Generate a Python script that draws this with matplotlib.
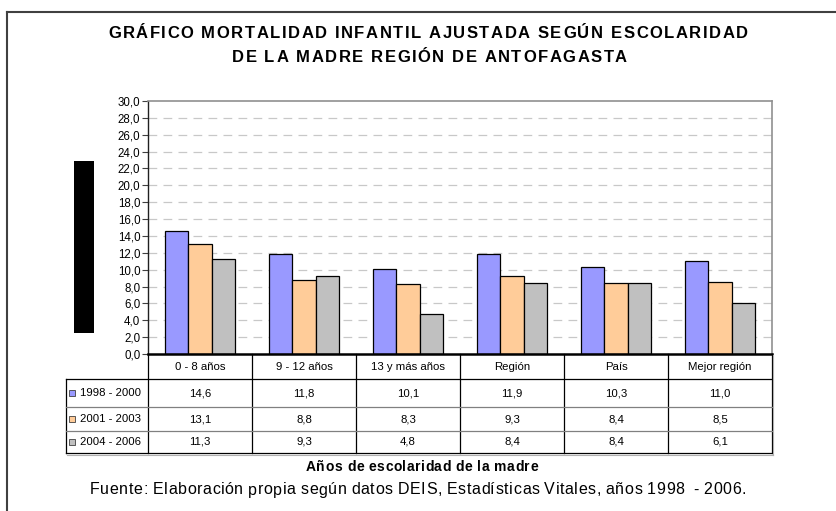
import matplotlib
matplotlib.use("Agg")
import matplotlib.pyplot as plt
from matplotlib.lines import Line2D
from matplotlib.patches import Rectangle
from matplotlib.transforms import blended_transform_factory

plt.rcParams['font.family'] = ['Liberation Sans', 'DejaVu Sans']

categories = ["0 - 8 años", "9 - 12 años", "13 y más años", "Región", "País", "Mejor región"]
series_names = ["1998 - 2000", "2001 - 2003", "2004 - 2006"]
v_1998_2000 = [14.6, 11.8, 10.1, 11.9, 10.3, 11.0]
v_2001_2003 = [13.1, 8.8, 8.3, 9.3, 8.4, 8.5]
v_2004_2006 = [11.3, 9.3, 4.8, 8.4, 8.4, 6.1]
series_values = [v_1998_2000, v_2001_2003, v_2004_2006]
colors = ["#9999FF", "#FFCC99", "#C0C0C0"]
yticks = [i * 2.0 for i in range(16)]

W, H = 837, 511
fig = plt.figure(figsize=(W / 100, H / 100), dpi=100)
renderer = fig.canvas.get_renderer()


def fx(px):
    return px / W


def fy(py):
    return 1 - py / H


def spaced_text(x0, x1, py, s, **kw):
    # draws s char by char so that it spans pixels x0..x1 (Excel-like letter spacing)
    widths = []
    for ch in s:
        t = fig.text(0, 0, ch.replace(" ", "i"), **kw)
        widths.append(t.get_window_extent(renderer).width)
        t.remove()
    gap = (x1 - x0 - sum(widths)) / (len(s) - 1)
    x = x0
    for ch, w in zip(s, widths):
        if ch != " ":
            fig.text(fx(x), fy(py), ch, ha="left", va="center", **kw)
        x += w + gap


# plot area in pixels
left, right, top, bottom = 148, 772, 101, 354
ax = fig.add_axes([fx(left), fy(bottom), fx(right - left), (bottom - top) / H])

n = len(categories)
bw = 0.224
for i, (vals, col) in enumerate(zip(series_values, colors)):
    xs = [k + (i - 1) * bw for k in range(n)]
    ax.bar(xs, vals, width=bw, color=col, edgecolor="black", linewidth=0.9, zorder=3)

ax.set_xlim(-0.5, n - 0.5)
ax.set_ylim(0, 30)
ax.set_yticks(yticks)
ax.set_yticklabels([f"{t:.1f}".replace(".", ",") for t in yticks], fontsize=8.3)
ax.set_xticks([])
ax.tick_params(axis="y", length=4, width=0.8, pad=1.5, color="#404040")
for t in yticks[1:-1]:
    ax.axhline(t, color="#C8C8C8", linestyle=(0, (7, 5)), linewidth=0.9, zorder=1)
ax.spines["top"].set_color("#909090")
ax.spines["right"].set_color("#909090")
ax.spines["top"].set_linewidth(1.2)
ax.spines["right"].set_linewidth(1.2)
ax.spines["left"].set_color("#202020")
ax.spines["left"].set_linewidth(1.0)
ax.spines["bottom"].set_color("black")
ax.spines["bottom"].set_linewidth(1.8)
ax.spines["bottom"].set_zorder(5)

# data table under the chart
tr = blended_transform_factory(ax.transData, fig.transFigure)
leg_left = 66
row_lines = [379, 407, 431, 453]
for k in range(n + 1):
    fig.add_artist(Line2D([k - 0.5, k - 0.5], [fy(bottom), fy(453)], transform=tr,
                          color="black", linewidth=0.9))
fig.add_artist(Line2D([fx(leg_left), fx(leg_left)], [fy(379), fy(453)], color="black", linewidth=0.9))
for j, py in enumerate(row_lines):
    c = "#808080" if j in (1, 2) else "black"
    fig.add_artist(Line2D([fx(leg_left), fx(right)], [fy(py), fy(py)], color=c, linewidth=0.9))
# faint shadow of the table
fig.add_artist(Line2D([fx(leg_left + 1), fx(right + 1)], [fy(454.5), fy(454.5)], color="#B0B0B0", linewidth=0.8))
fig.add_artist(Line2D([fx(right + 1.5), fx(right + 1.5)], [fy(355), fy(454.5)], color="#B0B0B0", linewidth=0.8))

tsize = 8.2
for k, cat in enumerate(categories):
    fig.text(k, fy(367), cat, transform=tr, ha="center", va="center", fontsize=tsize)
row_centers = [393, 419, 442]
for i, (name, vals, col) in enumerate(zip(series_names, series_values, colors)):
    cy = row_centers[i]
    fig.add_artist(Rectangle((fx(69), fy(cy + 3)), fx(6), 6 / H, facecolor=col,
                             edgecolor="#404040", linewidth=0.6))
    fig.text(fx(80), fy(cy), name, ha="left", va="center", fontsize=tsize)
    for k, v in enumerate(vals):
        fig.text(k, fy(cy), f"{v:.1f}".replace(".", ","), transform=tr,
                 ha="center", va="center", fontsize=tsize)

# redacted y label block
fig.add_artist(Rectangle((fx(74), fy(333)), fx(20), (333 - 161) / H, facecolor="black", edgecolor="none"))

# outer frame
fig.add_artist(Line2D([fx(7), fx(7)], [fy(12), 0], color="#404040", linewidth=1.5))
fig.add_artist(Line2D([fx(7), 1], [fy(12), fy(12)], color="#404040", linewidth=1.5))

# titles
spaced_text(108, 748, 33, "GRÁFICO MORTALIDAD INFANTIL AJUSTADA SEGÚN ESCOLARIDAD",
            fontsize=12, fontweight="bold")
spaced_text(232, 627, 57, "DE LA MADRE REGIÓN DE ANTOFAGASTA", fontsize=12, fontweight="bold")
spaced_text(306, 538, 467, "Años de escolaridad de la madre", fontsize=10, fontweight="bold")
spaced_text(90, 746, 490, "Fuente: Elaboración propia según datos DEIS, Estadísticas Vitales, años 1998  - 2006.",
            fontsize=11.5)

fig.savefig("out.png", dpi=100)
